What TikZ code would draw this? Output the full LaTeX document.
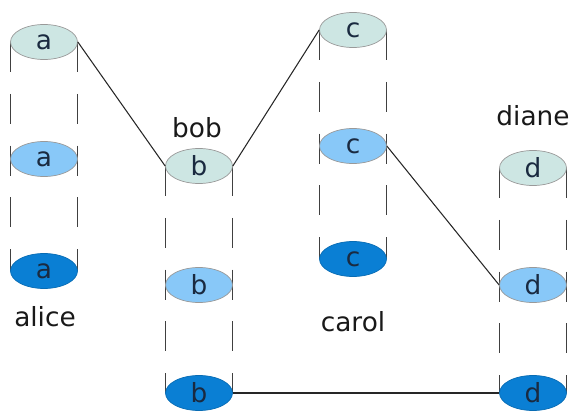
\documentclass[tikz,border=0pt]{standalone}
\usepackage{fontspec}
\setmainfont{DejaVu Sans}
\usetikzlibrary{shapes.geometric,backgrounds}
\definecolor{paleteal}{HTML}{CDE6E3}
\definecolor{skyblue}{HTML}{88C8F8}
\definecolor{deepblue}{HTML}{0A7FD4}
\definecolor{inkblue}{HTML}{1A2A40}
\begin{document}
\begin{tikzpicture}[x=0.02cm,y=-0.02cm,
    event/.style={ellipse,draw=gray!80,minimum width=1.34cm,minimum height=0.7cm,
      inner sep=0pt,text=inkblue,font=\fontsize{15}{18}\selectfont},
    evtop/.style={event,fill=paleteal},
    evmid/.style={event,fill=skyblue},
    evlow/.style={event,fill=deepblue,draw=deepblue!85!black},
    who/.style={font=\fontsize{15}{18}\selectfont,text=black!90},
    life/.style={draw=black!75,line width=0.6pt,dash pattern=on 17pt off 12.5pt}]
  \useasboundingbox (0,0) rectangle (575,412);
  % events of each process
  \draw
    (44,42) node[evtop] (a1){a}
    (44,159) node[evmid] (a2){a}
    (44,271) node[evlow] (a3){a}
    (199,166) node[evtop] (b1){b}
    (199,285) node[evmid] (b2){b}
    (199,393) node[evlow] (b3){b}
    (353,30) node[evtop] (c1){c}
    (353,146) node[evmid] (c2){c}
    (353,259) node[evlow] (c3){c}
    (533,168) node[evtop] (d1){d}
    (533,285) node[evmid] (d2){d}
    (533,393) node[evlow] (d3){d};
  % process names
  \draw
    (45,317) node[who] (alice){alice}
    (197,128) node[who] (bob){bob}
    (353,322) node[who] (carol){carol}
    (533,116) node[who] (diane){diane};
  % life lines
  \begin{scope}[on background layer]
    \draw[life] (a1.west) to (a3.west);
    \draw[life] (a1.east) to (a3.east);
    \draw[life] (b1.west) to (b3.west);
    \draw[life] (b1.east) to (b3.east);
    \draw[life] (c1.west) to (c3.west);
    \draw[life] (c1.east) to (c3.east);
    \draw[life] (d1.west) to (d3.west);
    \draw[life] (d1.east) to (d3.east);
  \end{scope}
  % messages
  \begin{scope}[-,draw=black!85,line width=0.6pt]
    \draw (a1.east) to (b1.west);
    \draw (b1.east) to (c1.west);
    \draw (c2.east) to (d2.west);
    \draw (b3.east) to (d3.west);
  \end{scope}
\end{tikzpicture}
\end{document}
